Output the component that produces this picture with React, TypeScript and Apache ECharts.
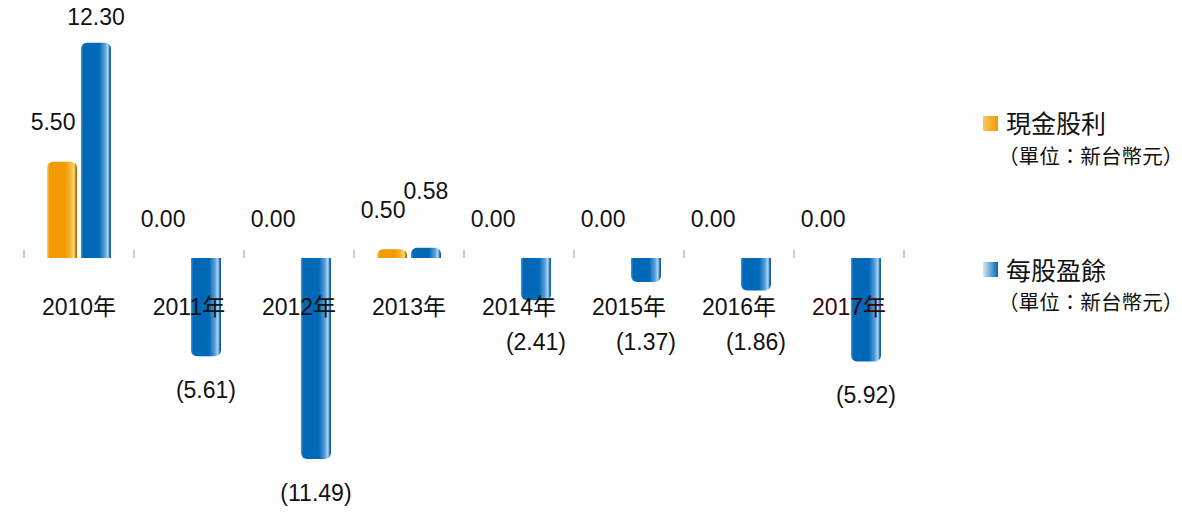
import React, { useEffect, useRef } from "react";
import * as echarts from "echarts";

const categories = ["2010年", "2011年", "2012年", "2013年", "2014年", "2015年", "2016年", "2017年"];
const cashDividend = [5.5, 0, 0, 0.5, 0, 0, 0, 0];
const eps = [12.3, -5.61, -11.49, 0.58, -2.41, -1.37, -1.86, -5.92];
const seriesNames = ["現金股利", "每股盈餘"];
const unitNote = "（單位：新台幣元）";

const FONT = "'Liberation Sans', Arial, 'Noto Sans CJK TC', sans-serif";
const CJK = "'Noto Sans CJK TC', 'Liberation Sans', sans-serif";

const Y_MIN = -12;
const Y_MAX = 13;
const GRID_TOP = 30.5;
const GRID_BOTTOM = 47;
const CHART_H = 515;
const LABEL_SIZE = 23;
const CAT_MARGIN = 37;

const fmt = (v: number) => (v < 0 ? `(${Math.abs(v).toFixed(2)})` : v.toFixed(2));

const orangeGrad = new echarts.graphic.LinearGradient(0, 0, 1, 0, [
  { offset: 0, color: "#fbd27a" },
  { offset: 0.08, color: "#f29a00" },
  { offset: 0.6, color: "#f29a00" },
  { offset: 0.8, color: "#f7b93a" },
  { offset: 0.9, color: "#fcd88a" },
  { offset: 0.95, color: "#d48a00" },
  { offset: 1, color: "#9a6200" },
]);
const blueGrad = new echarts.graphic.LinearGradient(0, 0, 1, 0, [
  { offset: 0, color: "#4a98d6" },
  { offset: 0.08, color: "#0068b7" },
  { offset: 0.6, color: "#0068b7" },
  { offset: 0.8, color: "#5aa0dc" },
  { offset: 0.9, color: "#b5d6f2" },
  { offset: 0.95, color: "#2a7cc0" },
  { offset: 1, color: "#004a86" },
]);

const radiusFor = (v: number) => (v < 0 ? [0, 0, 6, 6] : [6, 6, 0, 0]);

export default function App() {
  const ref = useRef<HTMLDivElement>(null);
  useEffect(() => {
    if (!ref.current) return;
    const chart = echarts.init(ref.current, undefined, { renderer: "svg" });
    const gridH = CHART_H - GRID_TOP - GRID_BOTTOM;
    const zeroFromBottom = (-Y_MIN / (Y_MAX - Y_MIN)) * gridH;
    const zeroY = CHART_H - GRID_BOTTOM - zeroFromBottom;
    // lowest pixel of the category-label row, plus a gap
    const catRowBottom = zeroY + CAT_MARGIN + LABEL_SIZE + 12;
    const option: any = {
      animation: false,
      backgroundColor: "#ffffff",
      grid: { left: 24, right: 278, top: GRID_TOP, bottom: GRID_BOTTOM, outerBoundsMode: "none", containLabel: false },
      xAxis: {
        type: "category",
        data: categories,
        z: 10,
        position: "bottom",
        offset: -zeroFromBottom,
        axisLine: { show: false, onZero: false },
        axisTick: { show: true, inside: true, length: 8, lineStyle: { color: "#bbbbbb", width: 1.5 } },
        axisLabel: {
          margin: CAT_MARGIN,
          fontSize: LABEL_SIZE,
          fontFamily: FONT,
          color: (_v: string, i: number) => (i === categories.length - 1 ? "#3a0608" : "#111111"),
        },
      },
      yAxis: {
        type: "value",
        min: Y_MIN,
        max: Y_MAX,
        show: false,
        splitLine: { show: false },
      },
      series: [
        {
          name: seriesNames[0],
          type: "bar",
          barWidth: 30,
          barGap: "13%",
          data: cashDividend.map((v) => ({
            value: v,
            itemStyle: { borderRadius: radiusFor(v) },
            label: { position: v < 0 ? "bottom" : "top" },
          })),
          itemStyle: { color: orangeGrad },
          label: {
            show: true,
            distance: 28,
            offset: [-9, 0],
            fontSize: LABEL_SIZE,
            fontFamily: FONT,
            color: "#111111",
            formatter: (p: any) => fmt(p.value),
          },
        },
        {
          name: seriesNames[1],
          type: "bar",
          barWidth: 30,
          barGap: "13%",
          data: eps.map((v) => ({
            value: v,
            itemStyle: { borderRadius: radiusFor(v) },
            label: { distance: v < 0 ? 22 : 14 },
          })),
          itemStyle: { color: blueGrad },
          label: {
            show: true,
            position: "outside",
            offset: [0, 0],
            fontSize: LABEL_SIZE,
            fontFamily: FONT,
            color: "#111111",
            formatter: (p: any) => fmt(p.value),
          },
          labelLayout: (p: any) => {
            const i = p.dataIndex;
            const o = cashDividend[i];
            const b = eps[i];
            if (o > 0 && b >= 0 && Math.abs(b - o) < 1.5) return { dy: -31 };
            if (b < 0 && p.labelRect && p.labelRect.y < catRowBottom) {
              return { dy: catRowBottom - p.labelRect.y };
            }
            return {};
          },
        },
      ],
      graphic: [
        {
          type: "rect",
          left: 983,
          top: 116,
          shape: { width: 15, height: 15 },
          style: {
            fill: new echarts.graphic.LinearGradient(0, 0, 1, 0, [
              { offset: 0, color: "#f8c860" },
              { offset: 1, color: "#f39800" },
            ]),
          },
        },
        {
          type: "text",
          left: 1006,
          top: 109,
          style: { text: seriesNames[0], fontSize: 25, fontFamily: CJK, fill: "#111111" },
        },
        {
          type: "text",
          left: 998,
          top: 145,
          style: { text: unitNote, fontSize: 20.6, fontFamily: CJK, fill: "#111111" },
        },
        {
          type: "rect",
          left: 983,
          top: 262,
          shape: { width: 15, height: 15 },
          style: {
            fill: new echarts.graphic.LinearGradient(0, 0, 1, 0, [
              { offset: 0, color: "#d6e8f7" },
              { offset: 1, color: "#0068b7" },
            ]),
          },
        },
        {
          type: "text",
          left: 1006,
          top: 256,
          style: { text: seriesNames[1], fontSize: 25, fontFamily: CJK, fill: "#111111" },
        },
        {
          type: "text",
          left: 998,
          top: 291,
          style: { text: unitNote, fontSize: 20.6, fontFamily: CJK, fill: "#111111" },
        },
      ],
    };
    chart.setOption(option);
    return () => chart.dispose();
  }, []);
  return (
    <div
      ref={ref}
      style={{ position: "fixed", left: 0, top: 0, width: 1182, height: 515, background: "#fff" }}
    />
  );
}
